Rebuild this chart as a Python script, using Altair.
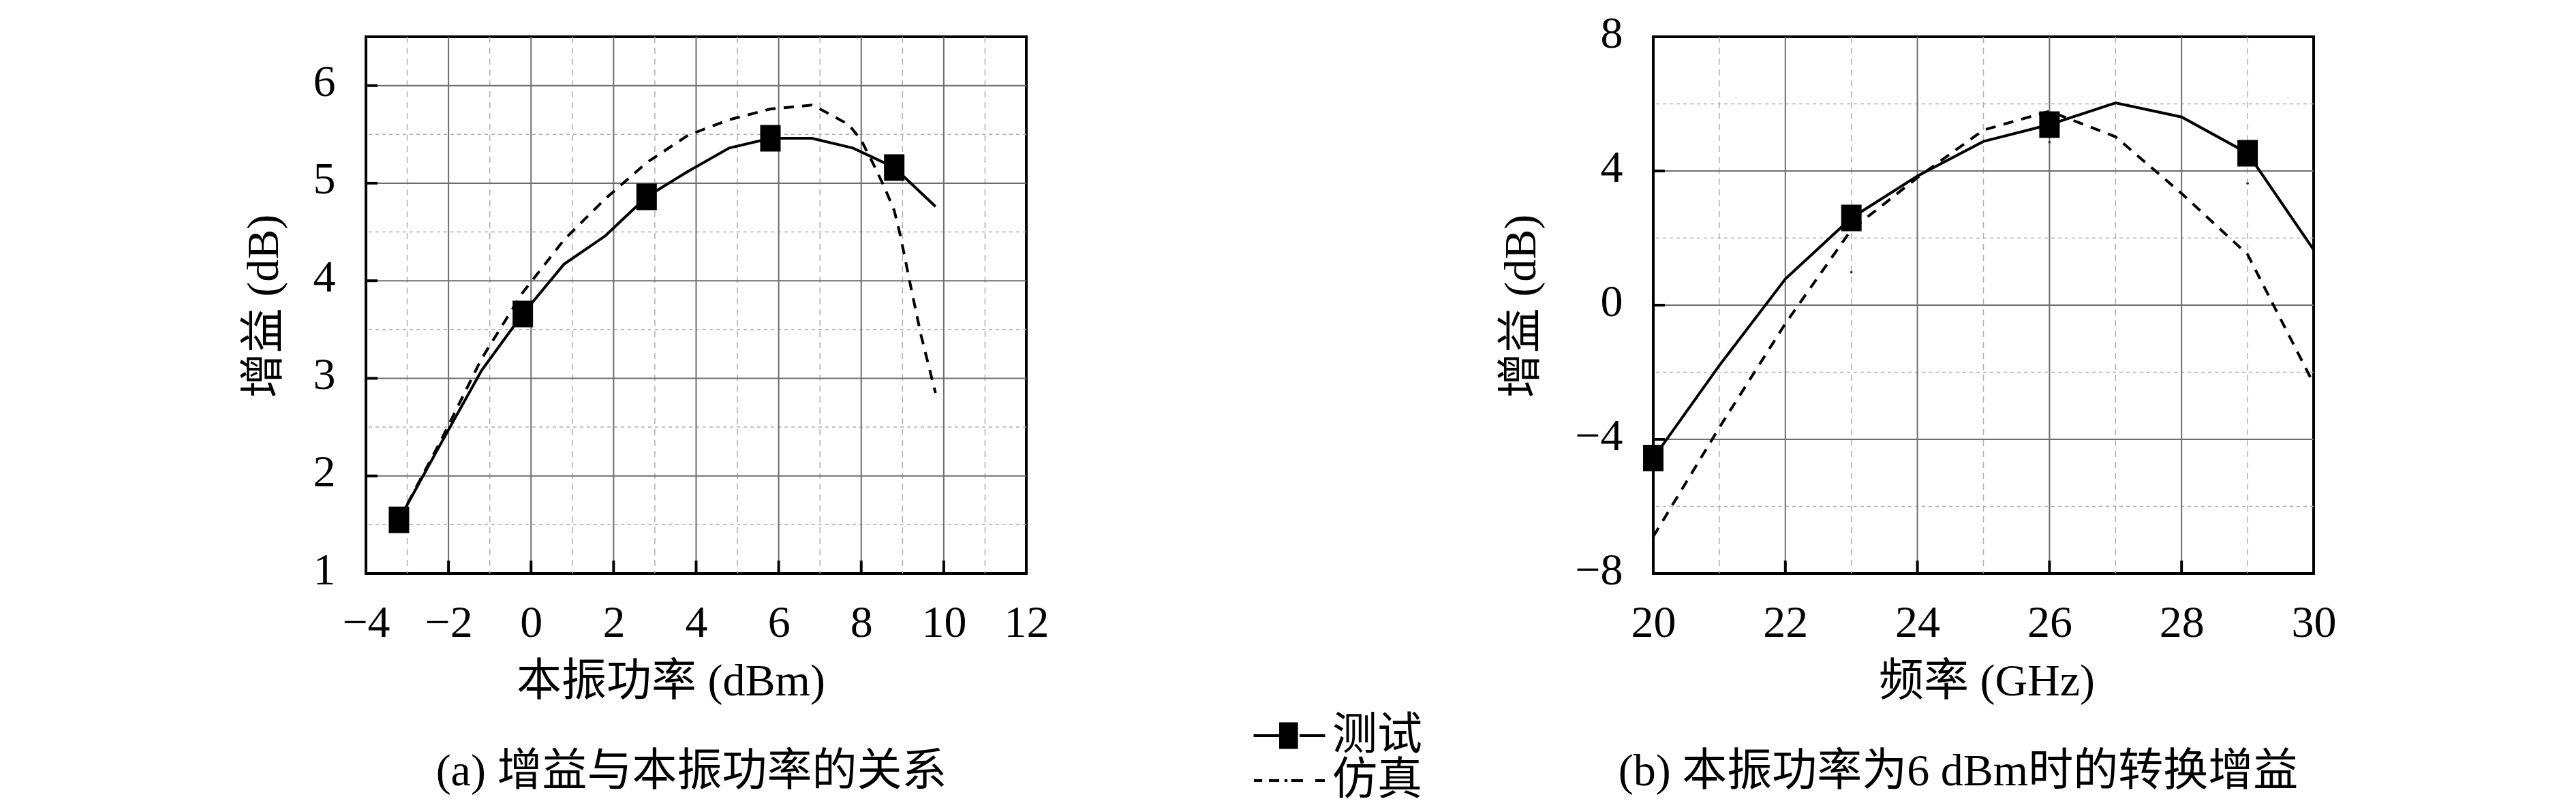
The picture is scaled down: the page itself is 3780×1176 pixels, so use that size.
import altair as alt
import pandas as pd

# ---------------- data ----------------
series_names = ["测试", "仿真"]

# (a) gain vs LO power
a_meas_x = [-3.2, -2.2, -1.2, -0.2, 0.8, 1.8, 2.8, 3.8, 4.8, 5.8, 6.8, 7.8, 8.8, 9.8]
a_meas_y = [1.55, 2.32, 3.08, 3.66, 4.17, 4.46, 4.86, 5.12, 5.36, 5.46, 5.46, 5.36, 5.16, 4.76]
a_mark_x = [-3.2, -0.2, 2.8, 5.8, 8.8]
a_mark_y = [1.55, 3.66, 4.86, 5.46, 5.16]
a_sim_x = [-3.2, -2.2, -1.2, -0.2, 0.8, 1.8, 2.8, 3.8, 4.8, 5.8, 6.3, 6.8, 7.0, 7.7,
           8.0, 8.3, 8.55, 8.8, 8.95, 9.2, 9.45, 9.8]
a_sim_y = [1.55, 2.35, 3.2, 3.88, 4.42, 4.84, 5.21, 5.49, 5.65, 5.76, 5.78, 5.80, 5.76, 5.6,
           5.44, 5.19, 4.97, 4.72, 4.46, 3.94, 3.44, 2.85]
a_xlabels = [-4, -2, 0, 2, 4, 6, 8, 10, 12]
a_ylabels = [1, 2, 3, 4, 5, 6]
a_xmajor = [-2, 0, 2, 4, 6, 8, 10]
a_xminor = [-3, -1, 1, 3, 5, 7, 9, 11]
a_ymajor = [2, 3, 4, 5, 6]
a_yminor = [1.5, 2.5, 3.5, 4.5, 5.5]

# (b) conversion gain vs frequency at 6 dBm LO
b_x = [20, 21, 22, 23, 24, 25, 26, 27, 28, 29, 30]
b_meas_y = [-4.56, -1.8, 0.78, 2.6, 3.85, 4.88, 5.38, 6.03, 5.61, 4.53, 1.65]
b_mark_x = [20, 23, 26, 29]
b_mark_y = [-4.56, 2.6, 5.38, 4.53]
b_sim_y = [-6.9, -3.65, -0.55, 2.25, 3.8, 5.22, 5.78, 5.02, 3.33, 1.51, -2.34]
b_dot_x = [23, 26, 29]
b_dot_y = [0.98, 4.86, 3.63]
b_xlabels = [20, 22, 24, 26, 28, 30]
b_ylabels = [-8, -4, 0, 4, 8]
b_xmajor = [22, 24, 26, 28]
b_xminor = [21, 23, 25, 27, 29]
b_ymajor = [-4, 0, 4]
b_yminor = [-6, -2, 2, 6]

# ---------------- style ----------------
FONT = "Liberation Serif, Noto Sans CJK SC"
W, H = 969, 788
FS = 66
RECT = "M-0.769,-1L0.769,-1L0.769,1L-0.769,1Z"


def hatch_rect(hw, hh, step):
    # filled-looking rectangle built from stroked vertical lines (legend symbols are stroked)
    parts = []
    x = -hw
    while x <= hw + 1e-9:
        parts.append("M%.3f,%.3fL%.3f,%.3f" % (x, -hh, x, hh))
        x += step
    return "".join(parts)


LEG_MEAS = "M-2,0L-0.571,0" + hatch_rect(0.495, 0.743, 0.1) + "M0.571,0L2,0"
LEG_SIM = "M-1.98,0L-1.52,0M-1.14,0L-0.57,0M-0.27,0L-0.11,0M0.11,0L0.76,0M1.45,0L1.98,0"


def panel(xdom, ydom, xlabels, ylabels, xmajor, xminor, ymajor, yminor,
          meas_x, meas_y, mark_x, mark_y, sim_x, sim_y, dot_x, dot_y,
          xtitle, ytitle, caption, xtitle_x, ytitle_x, cap_dx, legend=False):
    xaxis = alt.Axis(values=xlabels, grid=False, ticks=False, tickSize=0, domain=False,
                     labelFont=FONT, labelFontSize=FS, labelColor="black", labelPadding=40,
                     labelFlush=False, labelOverlap=False,
                     title=xtitle, titleFont=FONT, titleFontSize=FS, titleFontWeight="normal",
                     titleColor="black", titleX=xtitle_x, titleY=158, titleAlign="center",
                     titleBaseline="middle")
    yaxis = alt.Axis(values=ylabels, grid=False, ticks=False, tickSize=0, domain=False,
                     labelFont=FONT, labelFontSize=FS, labelColor="black", labelPadding=45,
                     labelFlush=False, labelOverlap=False, labelOffset=-5,
                     title=ytitle, titleFont=FONT, titleFontSize=FS, titleFontWeight="normal",
                     titleColor="black", titleX=ytitle_x, titleY=395, titleAngle=270,
                     titleAlign="center", titleBaseline="middle")
    xs = alt.Scale(domain=xdom, nice=False, zero=False)
    ys = alt.Scale(domain=ydom, nice=False, zero=False)

    def X():
        return alt.X("x:Q", scale=xs, axis=xaxis)

    def Y():
        return alt.Y("y:Q", scale=ys, axis=yaxis)

    vminor = alt.Chart(pd.DataFrame({"x": xminor})).mark_rule(
        color="#b0b0b0", strokeWidth=1.5, strokeDash=[9, 7]).encode(x=X())
    hminor = alt.Chart(pd.DataFrame({"y": yminor})).mark_rule(
        color="#b0b0b0", strokeWidth=1.5, strokeDash=[5, 5]).encode(y=Y())
    vmajor = alt.Chart(pd.DataFrame({"x": xmajor})).mark_rule(
        color="#6e6e6e", strokeWidth=2).encode(x=X())
    hmajor = alt.Chart(pd.DataFrame({"y": ymajor})).mark_rule(
        color="#6e6e6e", strokeWidth=2).encode(y=Y())
    xticks = alt.Chart(pd.DataFrame({"x": xmajor})).mark_rule(
        color="black", strokeWidth=4).encode(x=X(), y=alt.value(H), y2=alt.value(H - 19))
    yticks = alt.Chart(pd.DataFrame({"y": ymajor})).mark_rule(
        color="black", strokeWidth=4).encode(y=Y(), x=alt.value(0), x2=alt.value(17))
    sim = alt.Chart(pd.DataFrame({"x": sim_x, "y": sim_y})).mark_line(
        color="black", strokeWidth=4, strokeDash=[15, 12]).encode(x=X(), y=Y())
    meas = alt.Chart(pd.DataFrame({"x": meas_x, "y": meas_y})).mark_line(
        color="black", strokeWidth=4).encode(x=X(), y=Y())
    marks = alt.Chart(pd.DataFrame({"x": mark_x, "y": mark_y})).mark_point(
        shape=RECT, size=1521, filled=True, color="black", opacity=1).encode(x=X(), y=Y())
    layers = [vminor, hminor, vmajor, hmajor, sim, meas, marks, xticks, yticks]
    if dot_x:
        dots = alt.Chart(pd.DataFrame({"x": dot_x, "y": dot_y})).mark_point(
            shape="circle", size=14, filled=True, color="#333333", opacity=1).encode(x=X(), y=Y())
        layers.append(dots)
    if legend:
        leg = alt.Chart(pd.DataFrame({"series": series_names})).transform_filter(
            "false").mark_point(filled=False, color="black", strokeWidth=4, opacity=1).encode(
            shape=alt.Shape("series:N",
                            scale=alt.Scale(domain=series_names, range=[LEG_MEAS, LEG_SIM]),
                            legend=alt.Legend(orient="none", legendX=1322, legendY=993,
                                              title=None, labelFont=FONT, labelFontSize=FS,
                                              labelColor="black", labelOffset=30,
                                              labelLimit=600, symbolSize=2756,
                                              symbolStrokeWidth=4,
                                              symbolStrokeColor="black", symbolOpacity=1,
                                              rowPadding=-2, padding=0)))
        layers.append(leg)
    return alt.layer(*layers).properties(
        width=W, height=H,
        title=alt.TitleParams(text=caption, orient="bottom", anchor="middle", frame="group",
                              font=FONT, fontSize=FS, fontWeight="normal", color="black",
                              offset=68, dx=cap_dx))


left = panel([-4, 12], [1, 6.5], a_xlabels, a_ylabels, a_xmajor, a_xminor, a_ymajor, a_yminor,
             a_meas_x, a_meas_y, a_mark_x, a_mark_y, a_sim_x, a_sim_y, [], [],
             "本振功率 (dBm)", "增益 (dB)", "(a) 增益与本振功率的关系", 447, -150, -7,
             legend=True)
right = panel([20, 30], [-8, 8], b_xlabels, b_ylabels, b_xmajor, b_xminor, b_ymajor, b_yminor,
              b_x, b_meas_y, b_mark_x, b_mark_y, b_x, b_sim_y, b_dot_x, b_dot_y,
              "频率 (GHz)", "增益 (dB)", "(b) 本振功率为6 dBm时的转换增益", 489, -194, -37)

chart = alt.hconcat(left, right, spacing=920, bounds="flush").properties(
    padding={"left": 344, "top": 6, "right": 10, "bottom": 10},
    background="white"
).configure_view(stroke="black", strokeWidth=4)

chart.save("out.html", embed_options={"renderer": "svg", "actions": False})
